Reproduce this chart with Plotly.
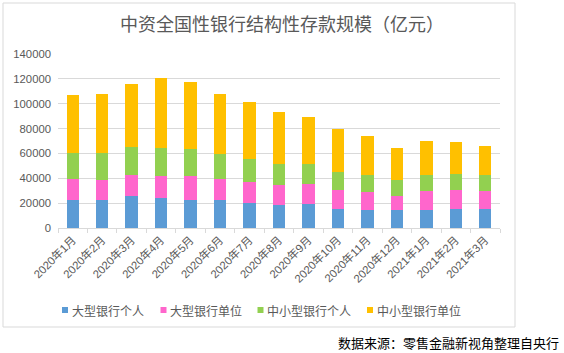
import plotly.graph_objects as go

months = ["2020年1月", "2020年2月", "2020年3月", "2020年4月", "2020年5月", "2020年6月",
          "2020年7月", "2020年8月", "2020年9月", "2020年10月", "2020年11月", "2020年12月",
          "2021年1月", "2021年2月", "2021年3月"]
large_personal = [22900, 22300, 25600, 24200, 22900, 22300, 19900, 18300, 19400, 15300, 14500, 14500, 14500, 15300, 15300]
large_corporate = [16400, 16200, 17000, 17800, 19100, 17000, 17200, 16200, 16100, 15600, 14800, 11600, 15300, 15600, 14500]
small_personal = [20700, 21500, 22600, 22600, 21500, 20200, 18300, 17000, 16200, 14300, 13500, 12900, 12900, 12700, 12900]
small_corporate = [47100, 47900, 50900, 56300, 54100, 48500, 46000, 42000, 38000, 34200, 31500, 25600, 27500, 25800, 23400]

names = ["大型银行个人", "大型银行单位", "中小型银行个人", "中小型银行单位"]
values = [large_personal, large_corporate, small_personal, small_corporate]
colors = ["#5B9BD5", "#FF66CC", "#92D050", "#FFC000"]

FONT = "Liberation Sans, Noto Sans CJK SC, sans-serif"
CJK = "Noto Sans CJK SC, sans-serif"
GRAY = "#595959"

# plot area in pixels (for paper-coordinate conversion of decorations)
L, R, T, B = 58, 500, 54, 228
def px(x):
    return (x - L) / (R - L)
def py(y):
    return (B - y) / (B - T)

fig = go.Figure()
for name, vals, color in zip(names, values, colors):
    fig.add_trace(go.Bar(x=months, y=vals, name=name, marker=dict(color=color, line=dict(width=0))))

fig.update_layout(
    barmode="stack",
    bargap=0.58,
    width=564, height=353,
    margin=dict(l=L, r=564 - R, t=T, b=353 - B),
    paper_bgcolor="white", plot_bgcolor="white",
    font=dict(family=FONT, color=GRAY, size=11),
    title=dict(text="中资全国性银行结构性存款规模（亿元）", x=0.5, xanchor="center",
               y=1 - 25 / 353, yanchor="middle",
               font=dict(family=CJK, size=18, color=GRAY)),
    showlegend=False,
)
fig.update_yaxes(range=[0, 140000], dtick=20000, showgrid=True, gridcolor="#D9D9D9", gridwidth=1,
                 zeroline=False, showline=False, ticks="", ticklabelstandoff=6,
                 tickfont=dict(size=11.3, color=GRAY), tickformat="d")
fig.update_xaxes(showline=True, linecolor="#D9D9D9", linewidth=1, ticks="outside", tickson="boundaries",
                 ticklen=4, tickcolor="#D9D9D9", tickangle=-45,
                 tickfont=dict(size=11.3, color=GRAY, family=FONT))

# chart frame
fig.add_shape(type="rect", xref="paper", yref="paper",
              x0=px(3), x1=px(515), y0=py(327), y1=py(3),
              line=dict(color="#D9D9D9", width=1), fillcolor="rgba(0,0,0,0)", layer="below")

# legend (drawn manually to match the small square markers)
legend_x = [62, 160.5, 257.5, 367]
legend_y = 310
for name, color, lx in zip(names, colors, legend_x):
    fig.add_shape(type="rect", xref="paper", yref="paper",
                  x0=px(lx), x1=px(lx + 6), y0=py(legend_y + 3), y1=py(legend_y - 3),
                  line=dict(width=0), fillcolor=color)
    fig.add_annotation(text=name, xref="paper", yref="paper", x=px(lx + 7.5), y=py(legend_y),
                       xanchor="left", yanchor="middle", showarrow=False,
                       font=dict(family=CJK, size=12, color=GRAY))

fig.add_annotation(text="数据来源：零售金融新视角整理自央行", xref="paper", yref="paper",
                   x=px(561), y=py(342), xanchor="right", yanchor="middle",
                   showarrow=False, font=dict(family=CJK, size=13, color="#000000"))

fig.write_html("out.html")
